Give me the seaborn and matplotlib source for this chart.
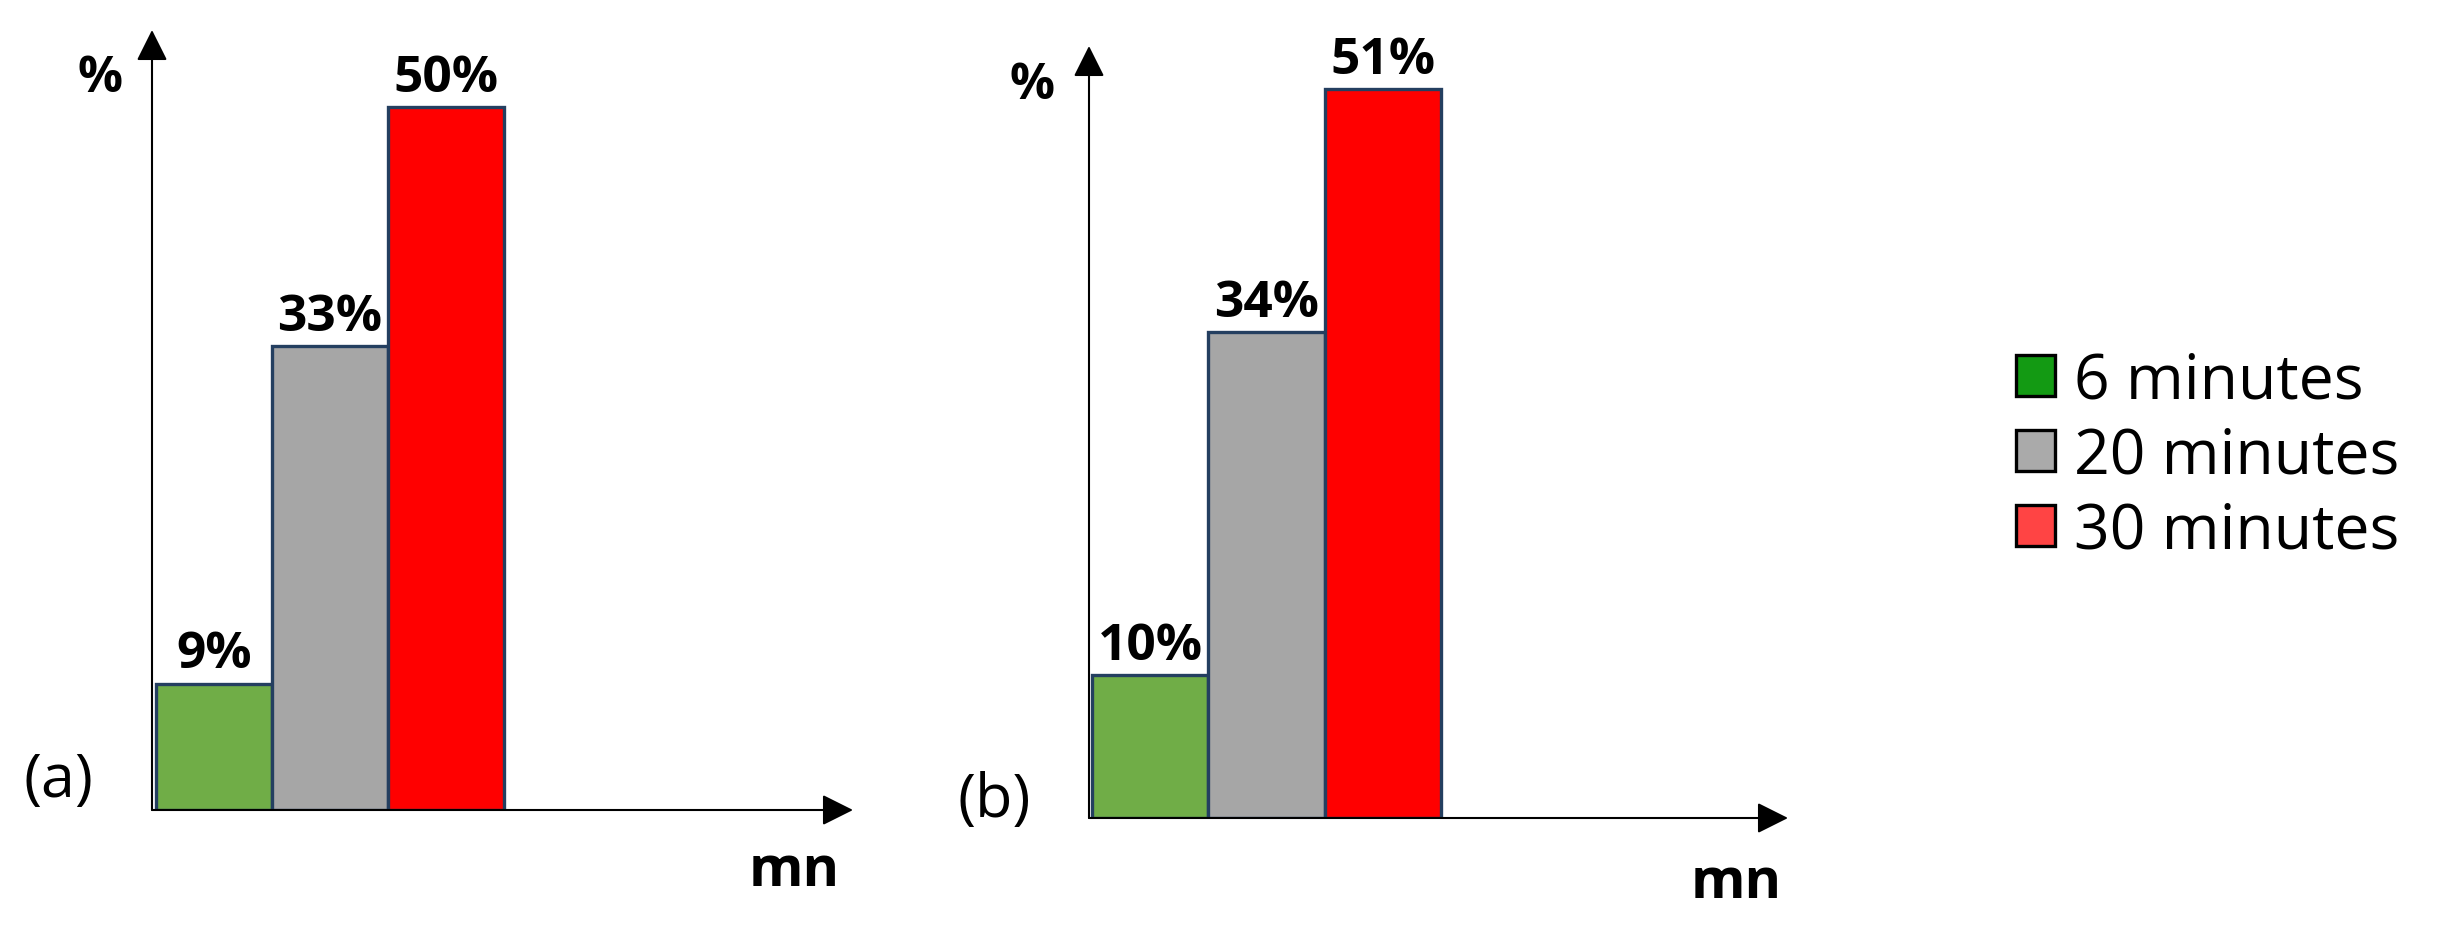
import matplotlib
matplotlib.use("Agg")
import matplotlib.pyplot as plt
import seaborn as sns
from matplotlib.patches import Patch

# Data
durations = ["6 minutes", "20 minutes", "30 minutes"]
values_a = [9, 33, 50]
values_b = [10, 34, 51]
panel_tags = ["(a)", "(b)"]

bar_colors = ["#70AD47", "#A6A6A6", "#FF0000"]
legend_colors = ["#139A13", "#AAAAAA", "#FF4444"]

sns.set_style("white")
plt.rcParams['font.family'] = ['Open Sans', 'DejaVu Sans']
plt.rcParams['text.color'] = 'black'

W, H = 2464, 929
fig = plt.figure(figsize=(W / 100, H / 100), dpi=100)


def px_axes(left, right, top, bottom):
    return fig.add_axes([left / W, 1 - bottom / H, (right - left) / W, (bottom - top) / H])


def draw_panel(ax, values, tag, xlim, ymax, tag_xy, pct_xy, mn_xy):
    sns.barplot(x=durations, y=values, hue=durations, palette=bar_colors,
                width=1, dodge=False, saturation=1, edgecolor="#243F60",
                linewidth=2.4, legend=False, ax=ax)
    ax.set_xlim(*xlim)
    ax.set_ylim(0, ymax)
    for s in ax.spines.values():
        s.set_visible(False)
    ax.set_xticks([])
    ax.set_yticks([])
    ax.set_xlabel("")
    ax.set_ylabel("")
    # value labels on top of bars
    for i, v in enumerate(values):
        ax.annotate(f"{v}%", (i, v), xytext=(0, 3), textcoords="offset points",
                    ha="center", va="bottom", fontsize=37, fontweight="bold")
    # arrows for axes
    arrow = dict(arrowstyle="-|>", color="black", lw=1.5, mutation_scale=48,
                 shrinkA=0, shrinkB=0)
    ax.annotate("", xy=(1, 0), xytext=(0, 0), xycoords="axes fraction",
                arrowprops=arrow, annotation_clip=False)
    ax.annotate("", xy=(0, 1), xytext=(0, 0), xycoords="axes fraction",
                arrowprops=arrow, annotation_clip=False)
    fig.text(tag_xy[0] / W, 1 - tag_xy[1] / H, tag, fontsize=44,
             ha="center", va="center")
    fig.text(pct_xy[0] / W, 1 - pct_xy[1] / H, "%", fontsize=36,
             fontweight="bold", ha="center", va="center")
    fig.text(mn_xy[0] / W, 1 - mn_xy[1] / H, "mn", fontsize=40,
             fontweight="bold", ha="center", va="center")


ax_a = px_axes(152, 853, 31, 811)
draw_panel(ax_a, values_a, panel_tags[0], (-0.534, 5.51), 55.5,
           (58, 781), (100, 79), (794, 872))

ax_b = px_axes(1089, 1788, 47, 819)
draw_panel(ax_b, values_b, panel_tags[1], (-0.526, 5.48), 54.0,
           (994, 801), (1032, 86), (1736, 884))

handles = [Patch(facecolor=c, edgecolor="black", linewidth=2.4, label=l)
           for c, l in zip(legend_colors, durations)]
fig.legend(handles=handles, loc="center left", bbox_to_anchor=(2016 / W, 1 - 457 / H),
           frameon=False, fontsize=45, handlelength=0.62, handleheight=0.62,
           handletextpad=0.3, labelspacing=0.2, borderpad=0, borderaxespad=0)

fig.savefig("out.png", dpi=100)
